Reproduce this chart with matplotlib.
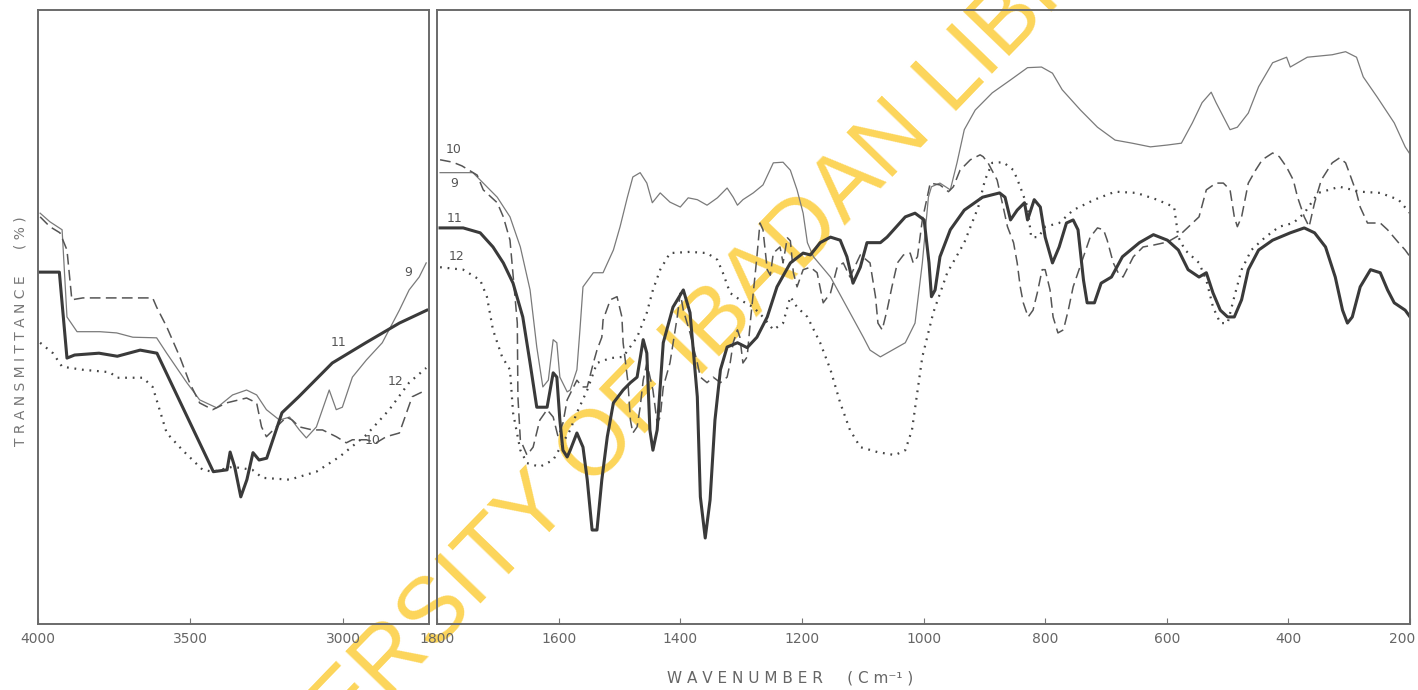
import matplotlib
matplotlib.use("Agg")
import matplotlib.pyplot as plt
from matplotlib.transforms import ScaledTranslation

# ---- 4000-2720 cm-1 region ----
w9_hi = [3993, 3961, 3921, 3905, 3872, 3797, 3742, 3689, 3611, 3578, 3512, 3470, 3414, 3362,
         3316, 3283, 3251, 3208, 3175, 3143, 3120, 3087, 3045, 3022, 3002, 2969, 2923, 2871,
         2815, 2783, 2750, 2727]
t9_hi = [66.9, 65.5, 64.2, 50.0, 47.6, 47.6, 47.4, 46.7, 46.6, 44.1, 39.3, 36.5, 35.2, 37.3,
         38.1, 37.3, 34.9, 33.2, 33.7, 31.6, 30.3, 32.1, 38.1, 34.9, 35.3, 40.2, 43.0, 45.8,
         51.1, 54.4, 56.5, 58.8]

w10_hi = [3993, 3961, 3928, 3905, 3889, 3853, 3624, 3611, 3578, 3535, 3503, 3470, 3427, 3382,
          3316, 3283, 3267, 3251, 3218, 3185, 3166, 3143, 3100, 3067, 3022, 2989, 2969, 2923,
          2891, 2858, 2815, 2773, 2727]
t10_hi = [66.3, 64.7, 63.7, 60.9, 52.8, 53.1, 53.1, 51.6, 48.4, 43.5, 39.3, 36.0, 34.9, 36.0,
          36.8, 36.0, 32.1, 30.5, 32.1, 33.7, 33.2, 32.1, 31.6, 31.6, 30.5, 29.5, 30.0, 30.0,
          29.5, 30.5, 31.1, 37.0, 38.1]

w11_hi = [3995, 3930, 3905, 3880, 3800, 3740, 3665, 3610, 3425, 3380, 3370, 3355, 3335, 3315,
          3295, 3275, 3250, 3200, 3145, 3035, 2925, 2815, 2725]
t11_hi = [57.3, 57.3, 43.3, 43.8, 44.1, 43.6, 44.6, 44.1, 24.8, 25.1, 28.0, 25.6, 20.7, 23.5,
          27.9, 26.7, 27.0, 34.4, 37.0, 42.5, 45.8, 49.0, 51.1]

w12_hi = [3993, 3951, 3921, 3853, 3764, 3742, 3656, 3624, 3578, 3526, 3460, 3427, 3362, 3297,
          3264, 3175, 3087, 3012, 2923, 2848, 2783, 2727]
t12_hi = [45.8, 44.1, 41.9, 41.4, 41.0, 40.1, 40.1, 38.6, 31.1, 28.3, 25.1, 24.8, 25.6, 25.1,
          23.8, 23.5, 24.8, 27.2, 30.8, 34.9, 39.3, 41.7]

# ---- 1800-200 cm-1 region ----
w9_lo = [1795, 1741, 1724, 1701, 1680, 1663, 1647, 1636, 1626, 1617, 1609, 1603, 1598, 1586,
         1581, 1570, 1565, 1560, 1543, 1527, 1510, 1499, 1487, 1478, 1466, 1455, 1446, 1433,
         1417, 1400, 1387, 1372, 1356, 1339, 1323, 1313, 1306, 1297, 1280, 1264, 1247, 1231,
         1219, 1208, 1198, 1191, 1181, 1153, 1126, 1099, 1088, 1071, 1030, 1014, 1002, 992,
         987, 973, 956, 945, 933, 915, 887, 857, 829, 806, 788, 772, 742, 714, 685, 657, 627,
         599, 576, 558, 542, 527, 519, 496, 484, 466, 449, 426, 403, 397, 369, 328, 306, 288,
         277, 254, 226, 208, 200]
t9_lo = [73.5, 73.5, 71.8, 69.5, 66.3, 61.4, 54.4, 45.1, 38.6, 39.7, 46.3, 45.8, 40.2, 37.8,
         38.1, 41.4, 47.9, 54.9, 57.2, 57.2, 60.9, 64.7, 69.5, 72.8, 73.5, 71.8, 68.6, 70.2,
         68.7, 67.9, 69.4, 69.1, 68.2, 69.4, 71.0, 69.5, 68.2, 69.1, 70.2, 71.5, 75.1, 75.2,
         73.9, 70.7, 66.9, 62.1, 59.8, 56.5, 51.6, 46.7, 44.6, 43.5, 45.8, 49.0, 58.8, 69.5,
         71.2, 71.8, 70.7, 75.1, 80.5, 83.7, 86.5, 88.6, 90.6, 90.7, 89.7, 87.0, 83.7, 80.9,
         78.8, 78.3, 77.7, 78.0, 78.3, 81.6, 84.9, 86.6, 84.9, 80.5, 80.9, 83.2, 87.5, 91.4,
         92.3, 90.7, 92.3, 92.7, 93.2, 92.3, 89.1, 85.8, 81.6, 77.7, 76.5]

w10_lo = [1795, 1774, 1759, 1734, 1724, 1701, 1691, 1680, 1668, 1667, 1663, 1652, 1642, 1631,
          1619, 1609, 1601, 1593, 1586, 1570, 1561, 1553, 1543, 1537, 1529, 1527, 1515, 1504,
          1496, 1494, 1486, 1482, 1478, 1471, 1466, 1461, 1455, 1445, 1438, 1433, 1428, 1417,
          1405, 1400, 1395, 1384, 1372, 1367, 1356, 1346, 1334, 1323, 1318, 1313, 1306, 1302,
          1297, 1290, 1285, 1280, 1274, 1269, 1264, 1257, 1252, 1247, 1236, 1231, 1224, 1219,
          1214, 1208, 1198, 1186, 1175, 1165, 1153, 1142, 1132, 1121, 1104, 1088, 1079, 1075,
          1068, 1060, 1052, 1043, 1033, 1022, 1017, 1010, 1002, 989, 973, 959, 951, 940, 923,
          907, 902, 894, 879, 869, 862, 852, 846, 841, 836, 828, 820, 813, 805, 800, 792, 787,
          779, 770, 762, 754, 746, 737, 726, 714, 704, 698, 688, 680, 672, 655, 639, 622, 599,
          578, 547, 535, 519, 507, 496, 489, 484, 477, 466, 454, 443, 426, 415, 403, 392, 385,
          374, 366, 357, 346, 328, 316, 306, 300, 288, 282, 270, 249, 237, 219, 208, 200]
t10_lo = [75.6, 75.2, 74.6, 73.1, 70.7, 68.6, 66.3, 62.5, 49.0, 37.0, 30.0, 27.5, 28.8, 33.2,
          34.9, 33.7, 30.5, 32.7, 36.5, 39.7, 38.6, 38.6, 42.5, 44.6, 46.7, 49.5, 52.8, 53.3,
          50.0, 45.8, 39.3, 33.2, 31.1, 32.1, 35.3, 39.7, 42.5, 38.1, 32.7, 33.7, 38.6, 42.5,
          50.0, 53.9, 51.1, 47.4, 42.5, 40.2, 39.3, 40.2, 39.3, 40.2, 42.5, 45.8, 47.9, 46.7,
          42.5, 43.5, 49.0, 53.9, 59.8, 65.3, 64.2, 57.7, 56.8, 60.4, 61.4, 58.8, 62.9, 62.4,
          57.2, 54.9, 57.7, 58.1, 57.2, 52.3, 53.9, 58.1, 58.8, 56.5, 60.1, 58.8, 53.3, 49.0,
          47.9, 51.1, 54.9, 58.8, 60.1, 60.4, 58.8, 59.8, 65.8, 71.8, 71.5, 70.4, 71.2, 73.9,
          75.6, 76.4, 76.1, 75.1, 72.3, 67.9, 64.7, 62.1, 58.8, 54.9, 52.3, 50.0, 51.1, 53.9,
          57.7, 57.7, 54.4, 50.0, 47.4, 47.9, 51.1, 54.9, 57.2, 59.8, 63.0, 64.5, 64.2, 62.5,
          58.8, 57.2, 56.5, 59.8, 61.4, 61.7, 62.2, 63.4, 66.3, 70.7, 71.8, 71.8, 70.7, 66.3,
          64.7, 66.3, 71.8, 73.9, 75.6, 76.7, 76.1, 74.4, 72.3, 69.5, 66.3, 64.7, 68.6, 72.3,
          75.1, 75.9, 75.1, 73.5, 70.2, 67.9, 65.3, 65.3, 64.2, 62.1, 60.9, 59.8]

w11_lo = [1795, 1757, 1729, 1708, 1691, 1675, 1659, 1647, 1636, 1619, 1609, 1603, 1598, 1593,
          1586, 1581, 1570, 1560, 1553, 1545, 1537, 1529, 1520, 1510, 1494, 1482, 1471, 1461,
          1455, 1450, 1445, 1438, 1428, 1412, 1395, 1384, 1372, 1367, 1359, 1351, 1343, 1334,
          1323, 1306, 1290, 1274, 1257, 1241, 1219, 1198, 1186, 1170, 1153, 1137, 1126, 1116,
          1104, 1093, 1071, 1060, 1030, 1014, 999, 991, 987, 981, 973, 956, 933, 903, 875, 866,
          857, 846, 834, 829, 818, 808, 800, 788, 777, 765, 754, 746, 737, 731, 719, 708, 691,
          673, 645, 622, 599, 581, 565, 547, 535, 524, 512, 500, 489, 477, 466, 449, 426, 397,
          374, 357, 339, 323, 311, 303, 295, 282, 265, 249, 237, 226, 208, 200]
t11_lo = [64.5, 64.5, 63.7, 61.4, 58.8, 55.5, 50.0, 42.5, 35.3, 35.3, 40.9, 40.2, 33.2, 28.3,
          27.2, 28.3, 31.1, 28.8, 23.5, 15.3, 15.3, 23.5, 30.5, 36.0, 38.1, 39.3, 40.2, 46.3,
          44.1, 31.6, 28.3, 31.6, 45.8, 51.6, 54.4, 50.7, 37.0, 20.7, 14.0, 20.2, 33.2, 41.4,
          45.1, 45.8, 45.0, 46.7, 50.0, 54.9, 58.8, 60.4, 60.1, 62.1, 63.0, 62.5, 59.8, 55.5,
          58.1, 62.1, 62.1, 63.0, 66.3, 66.9, 65.8, 58.8, 53.3, 54.4, 59.8, 64.2, 67.4, 69.5,
          70.2, 69.5, 65.8, 67.4, 68.6, 65.8, 69.1, 67.9, 63.0, 58.8, 61.4, 65.3, 65.8, 64.2,
          56.0, 52.3, 52.3, 55.5, 56.5, 59.8, 62.1, 63.4, 62.5, 60.9, 57.7, 56.5, 57.2, 53.9,
          51.1, 50.0, 50.0, 52.8, 57.7, 60.9, 62.5, 63.7, 64.5, 63.7, 61.4, 56.5, 51.1, 49.0,
          50.0, 54.9, 57.7, 57.2, 54.4, 52.3, 51.1, 50.0]

w12_lo = [1795, 1757, 1729, 1718, 1708, 1693, 1680, 1675, 1663, 1652, 1631, 1609, 1593, 1581,
          1570, 1553, 1537, 1515, 1494, 1471, 1455, 1445, 1433, 1417, 1384, 1356, 1339, 1330,
          1318, 1302, 1280, 1264, 1247, 1231, 1219, 1208, 1191, 1170, 1153, 1137, 1121, 1104,
          1076, 1047, 1030, 1019, 1002, 984, 961, 933, 910, 899, 887, 869, 852, 841, 829, 823,
          811, 800, 777, 754, 719, 685, 650, 616, 588, 581, 570, 547, 535, 524, 512, 500, 489,
          477, 461, 438, 415, 392, 374, 351, 316, 282, 249, 219, 200]
t12_lo = [58.1, 57.7, 56.0, 53.3, 47.9, 43.5, 41.4, 34.4, 28.3, 26.2, 25.6, 26.7, 29.5, 31.6,
          34.4, 38.1, 42.5, 43.3, 43.5, 46.7, 50.7, 54.4, 57.7, 60.4, 60.6, 60.4, 59.3, 57.2,
          53.9, 52.8, 51.6, 50.0, 47.9, 49.0, 53.3, 51.6, 50.0, 45.8, 41.4, 36.0, 31.6, 28.8,
          28.0, 27.5, 28.3, 31.6, 43.5, 50.7, 57.2, 62.1, 67.9, 72.3, 75.1, 75.2, 73.9, 71.2,
          67.9, 63.0, 63.0, 64.7, 65.3, 67.4, 69.1, 70.4, 70.2, 69.1, 67.9, 63.0, 60.9, 58.8,
          56.0, 51.6, 49.0, 49.0, 53.3, 57.7, 60.9, 63.0, 64.7, 65.3, 66.9, 70.2, 71.2, 70.4,
          70.2, 69.1, 66.9]

hi_ticks = [4000, 3500, 3000]
lo_ticks = [1800, 1600, 1400, 1200, 1000, 800, 600, 400, 200]

# curve labels: (text, wavenumber, transmittance)
hi_labels = [("9", 2786, 57.3), ("11", 3013, 45.9), ("12", 2829, 39.5), ("10", 2904, 29.8)]
lo_labels = [("10", 1772, 77.2), ("9", 1772, 71.8), ("11", 1772, 66.1), ("12", 1768, 59.9)]

styles = {
    "9": dict(color="#7a7a7a", lw=0.9, ls="-"),
    "10": dict(color="#555555", lw=1.1, ls=(0, (7, 3.5))),
    "11": dict(color="#3a3a3a", lw=2.2, ls="-"),
    "12": dict(color="#444444", lw=1.6, ls=(0, (0.8, 2.6))),
}

fig = plt.figure(figsize=(14.18, 6.9), dpi=100)
fig.patch.set_facecolor("white")
ax1 = fig.add_axes([0.0268, 0.0957, 0.2757, 0.8899])
ax2 = fig.add_axes([0.3082, 0.0957, 0.6862, 0.8899])

for ax, lim, ticks in [(ax1, (4000, 2718), hi_ticks), (ax2, (1800, 200), lo_ticks)]:
    ax.set_facecolor("none")
    ax.set_xlim(*lim)
    ax.set_ylim(0, 100)
    ax.set_yticks([])
    ax.set_xticks(ticks)
    ax.set_xticklabels([str(t) for t in ticks], fontsize=10, color="#666666")
    ax.tick_params(axis="x", direction="in", length=4, width=0.8, color="#777777", pad=6)
    for sp in ax.spines.values():
        sp.set_color("#6a6a6a")
        sp.set_linewidth(1.4)

# last label sits right at the sheet edge; nudge it inward a little
last = ax2.get_xticklabels()[-1]
last.set_transform(last.get_transform() + ScaledTranslation(-6 / 72, 0, fig.dpi_scale_trans))

ax1.plot(w9_hi, t9_hi, **styles["9"])
ax1.plot(w10_hi, t10_hi, **styles["10"])
ax1.plot(w11_hi, t11_hi, **styles["11"])
ax1.plot(w12_hi, t12_hi, **styles["12"])

ax2.plot(w9_lo, t9_lo, **styles["9"])
ax2.plot(w10_lo, t10_lo, **styles["10"])
ax2.plot(w11_lo, t11_lo, **styles["11"])
ax2.plot(w12_lo, t12_lo, **styles["12"])

for txt, w, t in hi_labels:
    ax1.text(w, t, txt, fontsize=9, color="#555555", ha="center", va="center")
for txt, w, t in lo_labels:
    ax2.text(w, t, txt, fontsize=9, color="#555555", ha="center", va="center")

fig.text(0.0145, 0.52, "T R A N S M I T T A N C E      ( % )", rotation=90,
         fontsize=10, color="#777777", ha="center", va="center")
fig.text(0.557, 0.017, "W A V E N U M B E R     ( C m⁻¹ )",
         fontsize=11, color="#666666", ha="center", va="center")

# library stamp across the sheet
fig.text(0.487, 0.49, "UNIVERSITY OF IBADAN LIBRARY", rotation=46, fontsize=66,
         color="#FCD55A", ha="center", va="center", zorder=-1,
         family="Liberation Sans")

fig.savefig("out.png", dpi=100, facecolor="white")
